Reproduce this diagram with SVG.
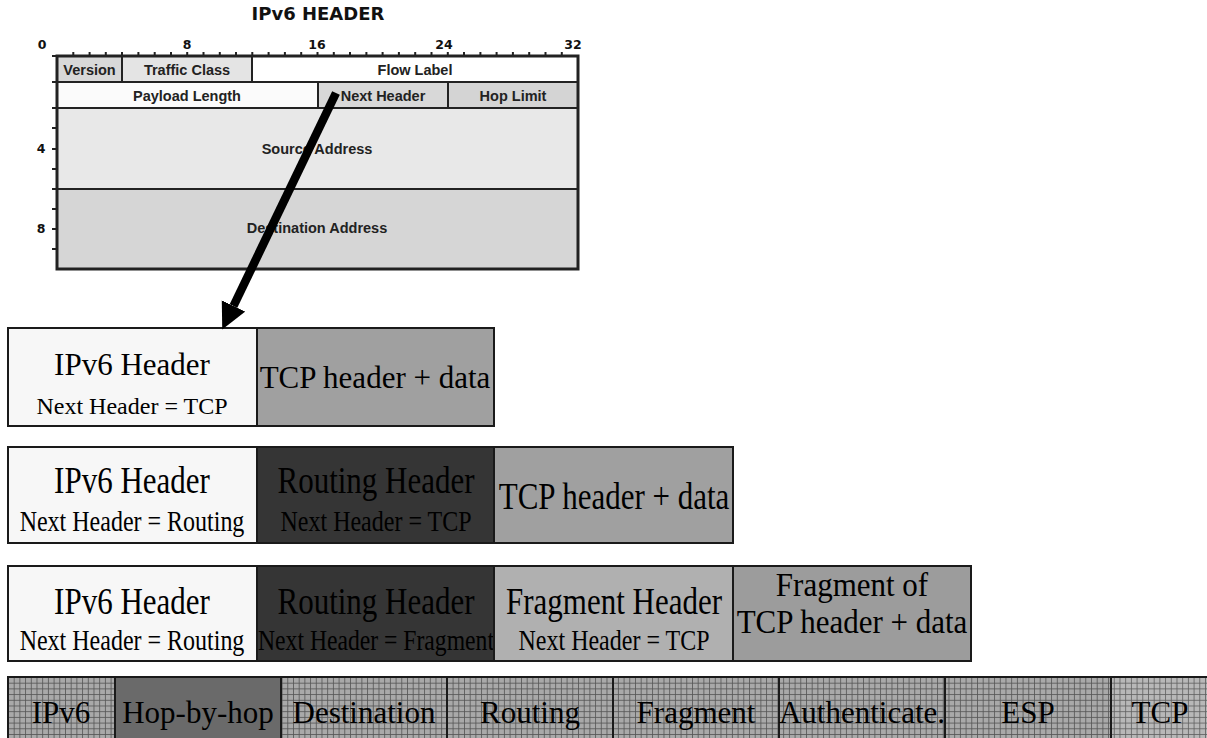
<svg xmlns="http://www.w3.org/2000/svg" width="1207" height="738" viewBox="0 0 1207 738">
<style>
.hdr{font-family:"Liberation Sans",Arial,sans-serif;font-weight:bold;font-size:14.5px;fill:#222;text-anchor:middle}
.ttl{font-family:"DejaVu Sans",Verdana,sans-serif;font-weight:bold;fill:#111;text-anchor:middle}
.fld{stroke:#222;stroke-width:2}
.cell{stroke:#1a1a1a;stroke-width:2}
.big{font-family:"Liberation Serif","Times New Roman",serif;font-size:31px;fill:#000;text-anchor:middle}
.sub{font-family:"Liberation Serif","Times New Roman",serif;font-size:24px;fill:#000;text-anchor:middle}
.tick{stroke:#222;stroke-width:2}
</style>
<defs>
<pattern id="grid" width="5.7" height="5.7" patternUnits="userSpaceOnUse" x="8" y="677">
<rect width="5.7" height="5.7" fill="#a9a9a9"/>
<path d="M0,0.4H5.7M0.4,0V5.7" stroke="#555" stroke-width="0.9"/>
</pattern>
<pattern id="grid2" width="5.7" height="5.7" patternUnits="userSpaceOnUse" x="8" y="677">
<rect width="5.7" height="5.7" fill="#b8b8b8"/>
<path d="M0,0.4H5.7M0.4,0V5.7" stroke="#606060" stroke-width="0.9"/>
</pattern>
<marker id="ah" markerUnits="userSpaceOnUse" markerWidth="27" markerHeight="27" refX="0" refY="13" orient="auto" viewBox="0 0 27 26">
<path d="M0,0 L26,13 L0,26 z" fill="#000"/>
</marker>
</defs>
<rect width="1207" height="738" fill="#fff"/>

<g id="ipv6-header-format">
<text class="ttl" x="318" y="20" font-size="18">IPv6 HEADER</text>
<g class="ttl" font-size="12.5">
<text x="42" y="49">0</text>
<text x="187" y="49">8</text>
<text x="317" y="49">16</text>
<text x="444" y="49">24</text>
<text x="573" y="49">32</text>
<text x="41" y="153">4</text>
<text x="41" y="233">8</text>
</g>
<rect class="fld" x="57" y="56" width="65" height="26" fill="#d8d8d8"/>
<rect class="fld" x="122" y="56" width="130" height="26" fill="#e4e4e4"/>
<rect class="fld" x="252" y="56" width="326" height="26" fill="#ffffff"/>
<rect class="fld" x="57" y="82" width="261" height="26" fill="#fbfbfb"/>
<rect class="fld" x="318" y="82" width="130" height="26" fill="#d8d8d8"/>
<rect class="fld" x="448" y="82" width="130" height="26" fill="#d4d4d4"/>
<rect class="fld" x="57" y="108" width="521" height="81" fill="#e8e8e8"/>
<rect class="fld" x="57" y="189" width="521" height="80" fill="#d6d6d6"/>
<rect x="57" y="56" width="521" height="213" fill="none" stroke="#222" stroke-width="3"/>
<path class="tick" d="M73.3,52V56M89.6,52V56M105.8,52V56M122,52V56M138.4,52V56M154.7,52V56M171,52V56M187.2,52V56M203.5,52V56M219.8,52V56M236,52V56M252.3,52V56M268.6,52V56M284.9,52V56M301.2,52V56M317.5,52V56M333.8,52V56M350,52V56M366.4,52V56M382.6,52V56M398.9,52V56M415.2,52V56M431.5,52V56M447.8,52V56M464,52V56M480.4,52V56M496.6,52V56M512.9,52V56M529.2,52V56M545.5,52V56M561.8,52V56"/>
<path class="tick" d="M52,82H57M52,108H57M52,128H57M52,149H57M52,169H57M52,189H57M52,209H57M52,229H57M52,249H57M52,56H57"/>
<text class="hdr" x="89.5" y="75">Version</text>
<text class="hdr" x="187" y="75">Traffic Class</text>
<text class="hdr" x="415" y="75">Flow Label</text>
<text class="hdr" x="187" y="101">Payload Length</text>
<text class="hdr" x="383" y="101">Next Header</text>
<text class="hdr" x="513" y="101">Hop Limit</text>
<text class="hdr" x="317" y="154">Source Address</text>
<text class="hdr" x="317" y="233">Destination Address</text>
</g>

<g id="row1">
<g id="r1-ipv6"><rect class="cell" x="8" y="328" width="249" height="98" fill="#f7f7f7"/>
<text class="big" x="132" y="375">IPv6 Header</text>
<text class="sub" x="132" y="414">Next Header = TCP</text></g>
<g id="r1-tcp"><rect class="cell" x="257" y="328" width="237" height="98" fill="#a0a0a0"/>
<text class="big" x="375" y="388">TCP header + data</text></g>
</g>

<g id="row2">
<g id="r2-ipv6"><rect class="cell" x="8" y="447" width="249" height="96" fill="#f7f7f7"/>
<text class="big" transform="translate(132,493) scale(1,1.25)">IPv6 Header</text>
<text class="sub" transform="translate(132,531) scale(1,1.25)">Next Header = Routing</text></g>
<g id="r2-routing"><rect class="cell" x="257" y="447" width="237" height="96" fill="#353535"/>
<text class="big" transform="translate(376,493) scale(1,1.25)">Routing Header</text>
<text class="sub" transform="translate(376,531) scale(1,1.25)">Next Header = TCP</text></g>
<g id="r2-tcp"><rect class="cell" x="494" y="447" width="239" height="96" fill="#a0a0a0"/>
<text class="big" transform="translate(614,509) scale(1,1.25)">TCP header + data</text></g>
</g>

<g id="row3">
<g id="r3-ipv6"><rect class="cell" x="8" y="566" width="249" height="95" fill="#f7f7f7"/>
<text class="big" transform="translate(132,614) scale(1,1.25)">IPv6 Header</text>
<text class="sub" transform="translate(132,650) scale(1,1.25)">Next Header = Routing</text></g>
<g id="r3-routing"><rect class="cell" x="257" y="566" width="237" height="95" fill="#353535"/>
<text class="big" transform="translate(376,614) scale(1,1.25)">Routing Header</text>
<text class="sub" transform="translate(376,650) scale(1,1.25)" textLength="236" lengthAdjust="spacingAndGlyphs">Next Header = Fragment</text></g>
<g id="r3-fragment"><rect class="cell" x="494" y="566" width="239" height="95" fill="#b0b0b0"/>
<text class="big" transform="translate(614,614) scale(1,1.25)">Fragment Header</text>
<text class="sub" transform="translate(614,650) scale(1,1.25)">Next Header = TCP</text></g>
<g id="r3-data"><rect class="cell" x="733" y="566" width="238" height="95" fill="#9c9c9c"/>
<text class="big" transform="translate(852,596) scale(1,1.12)">Fragment of</text>
<text class="big" transform="translate(852,633) scale(1,1.12)">TCP header + data</text></g>
</g>

<g id="row4">
<g id="r4-ipv6"><rect class="cell" x="8" y="677" width="107" height="70" fill="url(#grid)"/>
<text class="big" x="61" y="723">IPv6</text></g>
<g id="r4-hop"><rect class="cell" x="115" y="677" width="166" height="70" fill="#6a6a6a"/>
<text class="big" x="198" y="723">Hop-by-hop</text></g>
<g id="r4-dest"><rect class="cell" x="281" y="677" width="166" height="70" fill="url(#grid)"/>
<text class="big" x="364" y="723">Destination</text></g>
<g id="r4-routing"><rect class="cell" x="447" y="677" width="166" height="70" fill="url(#grid)"/>
<text class="big" x="530" y="723">Routing</text></g>
<g id="r4-fragment"><rect class="cell" x="613" y="677" width="166" height="70" fill="url(#grid)"/>
<text class="big" x="696" y="723">Fragment</text></g>
<g id="r4-auth"><rect class="cell" x="779" y="677" width="166" height="70" fill="url(#grid)"/>
<text class="big" x="862" y="723">Authenticate.</text></g>
<g id="r4-esp"><rect class="cell" x="945" y="677" width="166" height="70" fill="url(#grid)"/>
<text class="big" x="1028" y="723">ESP</text></g>
<g id="r4-tcp"><rect class="cell" x="1111" y="677" width="106" height="70" fill="url(#grid2)"/>
<text class="big" x="1160" y="723">TCP</text></g>
</g>

<g id="connectors">
<path d="M336,93 L233.5,306" stroke="#000" stroke-width="8.5" fill="none" marker-end="url(#ah)"/>
</g>
</svg>
